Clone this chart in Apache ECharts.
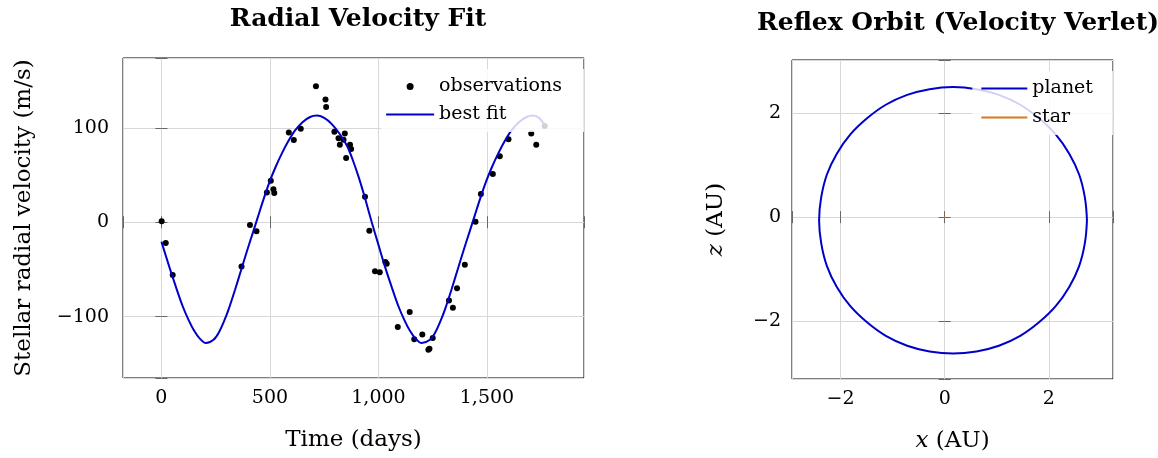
<!DOCTYPE html>
<html><head><meta charset="utf-8">
<script src="https://cdn.jsdelivr.net/npm/echarts@6/dist/echarts.min.js"></script>
<style>html,body{margin:0;padding:0;background:#fff}#c{width:1158px;height:458px}</style>
</head><body><div id="c"></div>
<script>
// ---- Radial velocity observations (days, m/s) ----
const obsT = [1, 20, 52, 369, 408, 438, 486, 504, 516, 520, 587, 610, 642, 712, 756, 759, 797, 816, 822, 839, 845, 851, 869, 874, 938, 958, 984, 1006, 1032, 1038, 1089, 1144, 1165, 1202, 1230, 1235, 1250, 1325, 1343, 1362, 1398, 1447, 1472, 1527, 1559, 1599, 1704, 1727, 1766];
const obsV = [1, -22, -56, -47, -3, -9.5, 31.6, 44, 35, 31, 95, 87, 99, 144, 130, 122, 96, 89, 82, 87.5, 94, 68, 82, 77.5, 27, -9, -52, -53, -42, -44, -111, -95, -124, -119, -135, -134, -122.5, -83, -90.5, -70, -45, 0.5, 30, 51, 70, 88, 94, 82, 102];
// ---- Best-fit curve ----
const fitT = [0, 36, 66, 98, 126, 151, 176, 205, 240, 264, 290, 310, 340, 368, 395, 420, 445, 470, 497, 525, 555, 585, 615, 650, 685, 716, 750, 785, 820, 855, 880, 910, 940, 969, 1000, 1030, 1060, 1092, 1120, 1145, 1170, 1199, 1237, 1261, 1287, 1307, 1337, 1365, 1392, 1417, 1442, 1467, 1494, 1522, 1552, 1582, 1612, 1647, 1682, 1713, 1740, 1766];
const fitV = [-20.5, -47, -68, -89, -104, -115, -123, -128, -124.5, -117, -104, -92, -71, -50, -30, -12, 6, 24, 42, 58, 73, 86, 97, 106, 111.5, 113, 110.5, 104, 94, 81, 67, 47, 24, 0, -24, -47, -68, -89, -104, -115, -123, -128, -124.5, -117, -104, -92, -71, -50, -30, -12, 6, 24, 42, 58, 73, 86, 97, 106, 111.5, 113, 110.5, 103];
// ---- Reflex orbit (AU) ----
const planetX = [2.73, 2.69, 2.58, 2.39, 2.13, 1.81, 1.45, 1.04, 0.61, 0.16, -0.29, -0.72, -1.13, -1.49, -1.81, -2.07, -2.26, -2.37, -2.41, -2.37, -2.26, -2.07, -1.81, -1.49, -1.13, -0.72, -0.29, 0.16, 0.61, 1.04, 1.45, 1.81, 2.13, 2.39, 2.58, 2.69, 2.73];
const planetZ = [-0.06, 0.38, 0.82, 1.22, 1.59, 1.90, 2.16, 2.35, 2.46, 2.50, 2.46, 2.35, 2.16, 1.90, 1.59, 1.22, 0.82, 0.38, -0.06, -0.50, -0.94, -1.34, -1.71, -2.02, -2.28, -2.47, -2.58, -2.62, -2.58, -2.47, -2.28, -2.02, -1.71, -1.34, -0.94, -0.50, -0.06];
const starX = [0.01, 0, -0.01, 0, 0.01];
const starZ = [0, 0.01, 0, -0.01, 0];

const zip = (a, b) => a.map((v, i) => [v, b[i]]);
const FONT = 'DejaVu Serif';
const BLUE = '#0000c8';
const ORANGE = '#d9791c';
const GRIDC = '#d8d8d8';
const minus = s => String(s).replace('-', '\u2212');

function mainAxis(gi, pos, mn, mx, split, fmt, margin, extra) {
  return Object.assign({
    type: 'value', gridIndex: gi, position: pos, min: mn, max: mx, splitNumber: split,
    axisLine: { show: false },
    axisTick: { show: true, inside: true, length: 6, lineStyle: { color: '#666', width: 1 } },
    splitLine: { show: true, lineStyle: { color: GRIDC, width: 1 } },
    axisLabel: { show: true, formatter: fmt, color: '#000', fontFamily: FONT, fontSize: 19, margin: margin,
                 showMinLabel: true, showMaxLabel: true },
    nameTextStyle: { color: '#000', fontFamily: FONT, fontSize: 23 }
  }, extra || {});
}
function mirrorAxis(gi, pos, mn, mx, split) {
  return {
    type: 'value', gridIndex: gi, position: pos, min: mn, max: mx, splitNumber: split,
    axisLine: { show: false },
    axisTick: { show: true, inside: true, length: 6, lineStyle: { color: '#666', width: 1 } },
    splitLine: { show: false }, axisLabel: { show: false }
  };
}
const fmtStep = step => v => {
  const r = Math.round(v / step) * step;
  if (Math.abs(v - r) > 1e-6) return '';
  return minus(r.toLocaleString('en-US'));
};
const italicName = {
  color: '#000', fontFamily: FONT, fontSize: 23,
  rich: { i: { fontStyle: 'italic', fontFamily: FONT, fontSize: 23, color: '#000' } }
};

const option = {
  animation: false,
  backgroundColor: '#fff',
  title: [
    { text: 'Radial Velocity Fit', left: 353, top: 2, textAlign: 'center',
      textStyle: { fontFamily: FONT, fontWeight: 'bold', fontSize: 25, color: '#000' } },
    { text: 'Reflex Orbit (Velocity Verlet)', left: 953, top: 6, textAlign: 'center',
      textStyle: { fontFamily: FONT, fontWeight: 'bold', fontSize: 25, color: '#000' } }
  ],
  grid: [
    { left: 123, top: 58, width: 461, height: 320, show: true, borderColor: '#000', borderWidth: 1, backgroundColor: 'transparent' },
    { left: 792, top: 60, width: 321, height: 321, show: true, borderColor: '#000', borderWidth: 1, backgroundColor: 'transparent' }
  ],
  xAxis: [
    mainAxis(0, 'bottom', -177, 1947, 4, fmtStep(500), 11, { name: 'Time (days)', nameLocation: 'middle', nameGap: 51 }),
    mirrorAxis(0, 'top', -177, 1947, 4),
    mainAxis(1, 'bottom', -2.93, 3.23, 3, fmtStep(2), 11, { name: '{i|x} (AU)', nameLocation: 'middle', nameGap: 51, nameTextStyle: italicName }),
    mirrorAxis(1, 'top', -2.93, 3.23, 3)
  ],
  yAxis: [
    mainAxis(0, 'left', -165, 174, 3, fmtStep(100), 14, { name: 'Stellar radial velocity (m/s)', nameLocation: 'middle', nameGap: 87 }),
    mirrorAxis(0, 'right', -165, 174, 3),
    mainAxis(1, 'left', -3.11, 3.02, 3, fmtStep(2), 11, { name: '{i|z} (AU)', nameLocation: 'middle', nameGap: 64, nameTextStyle: italicName }),
    mirrorAxis(1, 'right', -3.11, 3.02, 3)
  ],
  legend: [
    { data: [{ name: 'observations', icon: 'circle' }, { name: 'best fit', itemStyle: { opacity: 0 } }],
      orient: 'vertical', right: 574, top: 69, itemWidth: 48, itemHeight: 7, itemGap: 9,
      padding: [8, 22, 8, 4], backgroundColor: 'rgba(255,255,255,0.82)', borderWidth: 0,
      textStyle: { fontFamily: FONT, fontSize: 19, color: '#000' } },
    { data: [{ name: 'planet', itemStyle: { opacity: 0 } }, { name: 'star', itemStyle: { opacity: 0 } }],
      orient: 'vertical', right: 45, top: 71, itemWidth: 46, itemHeight: 7, itemGap: 10,
      padding: [8, 20, 8, 8], backgroundColor: 'rgba(255,255,255,0.82)', borderWidth: 0,
      textStyle: { fontFamily: FONT, fontSize: 19, color: '#000' } }
  ],
  series: [
    { name: 'observations', type: 'scatter', xAxisIndex: 0, yAxisIndex: 0, data: zip(obsT, obsV),
      symbol: 'circle', symbolSize: 6, itemStyle: { color: '#000', opacity: 1 }, z: 2 },
    { name: 'best fit', type: 'line', xAxisIndex: 0, yAxisIndex: 0, data: zip(fitT, fitV),
      symbol: 'none', smooth: 0.3, lineStyle: { color: BLUE, width: 2 }, itemStyle: { color: BLUE }, z: 3 },
    { name: 'planet', type: 'line', xAxisIndex: 2, yAxisIndex: 2, data: zip(planetX, planetZ),
      symbol: 'none', smooth: 0.4, lineStyle: { color: BLUE, width: 2 }, itemStyle: { color: BLUE }, z: 3 },
    { name: 'star', type: 'line', xAxisIndex: 2, yAxisIndex: 2, data: zip(starX, starZ),
      symbol: 'none', lineStyle: { color: ORANGE, width: 2 }, itemStyle: { color: ORANGE }, z: 3 }
  ]
};
const chart = echarts.init(document.getElementById('c'), null, { renderer: 'canvas' });
chart.setOption(option);
</script></body></html>
